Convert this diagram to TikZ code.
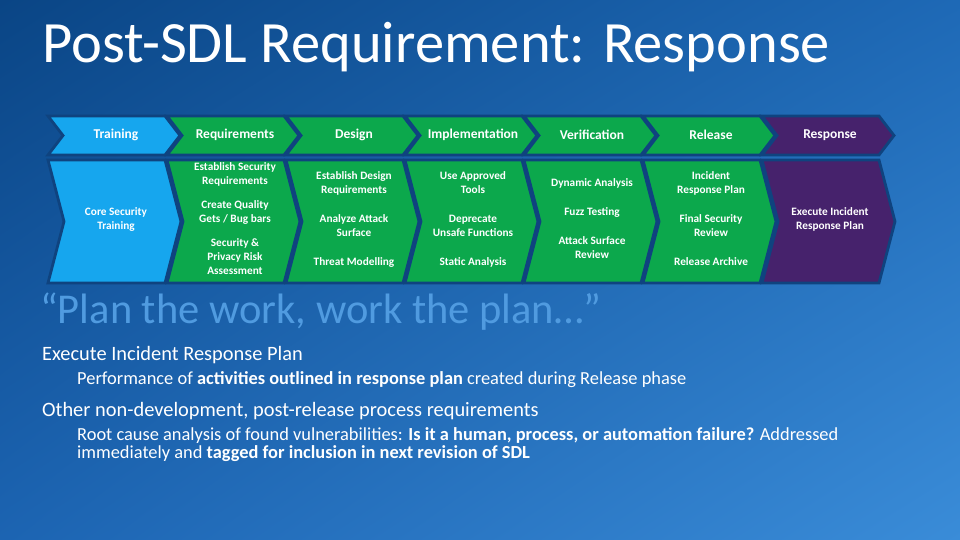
\documentclass[tikz,border=0pt]{standalone}
\usepackage{fontspec}
\setmainfont{Carlito}
\usetikzlibrary{shadings}
\definecolor{bgA}{HTML}{0A4585}
\definecolor{bgB}{HTML}{1E69B6}
\definecolor{bgC}{HTML}{1C64B2}
\definecolor{bgD}{HTML}{3A8CD8}
\definecolor{gapc}{HTML}{0F437F}
\definecolor{trainc}{HTML}{16A6EE}
\definecolor{greenc}{HTML}{0CA84C}
\definecolor{purplec}{HTML}{46226C}
\definecolor{quotec}{HTML}{509BE0}
\newcommand{\chevshape}[6]{%
  \path[chev,fill=#6] (#1,#2) -- ({#1+#5},#2) -- ({#1+#5+#4},{(#2+#3)/2}) --
    ({#1+#5},#3) -- (#1,#3) -- ({#1+#4},{(#2+#3)/2}) -- cycle;}
\tikzset{
  chev/.style={draw=gapc, line width=2.8pt, line join=miter},
  toplbl/.style={text=white, font=\bfseries\fontsize{13.5}{15}\selectfont, align=center},
  botlbl/.style={text=white, font=\bfseries\fontsize{11.3}{14}\selectfont, align=center},
  titlelbl/.style={text=white, font=\fontsize{58.5}{64}\selectfont, anchor=base west, inner sep=0pt},
  quotelbl/.style={text=quotec, font=\fontsize{42.5}{48}\selectfont, anchor=base west, inner sep=0pt},
  headlbl/.style={text=white, font=\fontsize{20.4}{23}\selectfont, anchor=base west, inner sep=0pt},
  sublbl/.style={text=white, font=\fontsize{18.4}{20}\selectfont, anchor=base west, inner sep=0pt},
}
\begin{document}
\begin{tikzpicture}[x=1pt,y=-1pt]
\useasboundingbox (0,0) rectangle (960,540);
\shade[upper left=bgA, upper right=bgB, lower left=bgC, lower right=bgD] (0,0) rectangle (960,540);

% title
\node[titlelbl] (title) at (42,63) {Post-SDL Requirement: Response};

% top row chevrons
\chevshape{48}{116}{155}{15}{117}{trainc}
\chevshape{167}{116}{155}{15}{117}{greenc}
\chevshape{286}{116}{155}{15}{117}{greenc}
\chevshape{405}{116}{155}{15}{117}{greenc}
\chevshape{524}{116}{155}{15}{117}{greenc}
\chevshape{643}{116}{155}{15}{117}{greenc}
\chevshape{762}{116}{155}{15}{117}{purplec}
% bottom row chevrons
\chevshape{48}{160}{283}{16}{117}{trainc}
\chevshape{167}{160}{283}{16}{117}{greenc}
\chevshape{286}{160}{283}{16}{117}{greenc}
\chevshape{405}{160}{283}{16}{117}{greenc}
\chevshape{524}{160}{283}{16}{117}{greenc}
\chevshape{643}{160}{283}{16}{117}{greenc}
\chevshape{762}{160}{283}{16}{117}{purplec}

% top labels
\node[toplbl] (h1) at (116,135) {Training};
\node[toplbl] (h2) at (235,135) {Requirements};
\node[toplbl] (h3) at (354,135) {Design};
\node[toplbl] (h4) at (473,135) {Implementation};
\node[toplbl] (h5) at (592,135) {Verification};
\node[toplbl] (h6) at (711,135) {Release};
\node[toplbl] (h7) at (830,135) {Response};

% bottom labels
\node[botlbl] (b11) at (116,219) {Core Security\\Training};
\node[botlbl] (b21) at (235,174) {Establish Security\\Requirements};
\node[botlbl] (b22) at (235,212) {Create Quality\\Gets / Bug bars};
\node[botlbl] (b23) at (235,257) {Security \&\\Privacy Risk\\Assessment};
\node[botlbl] (b31) at (354,183) {Establish Design\\Requirements};
\node[botlbl] (b32) at (354,226) {Analyze Attack\\Surface};
\node[botlbl] (b33) at (354,262) {Threat Modelling};
\node[botlbl] (b41) at (473,183) {Use Approved\\Tools};
\node[botlbl] (b42) at (473,226) {Deprecate\\Unsafe Functions};
\node[botlbl] (b43) at (473,262) {Static Analysis};
\node[botlbl] (b51) at (592,183) {Dynamic Analysis};
\node[botlbl] (b52) at (592,212) {Fuzz Testing};
\node[botlbl] (b53) at (592,248) {Attack Surface\\Review};
\node[botlbl] (b61) at (711,183) {Incident\\Response Plan};
\node[botlbl] (b62) at (711,226) {Final Security\\Review};
\node[botlbl] (b63) at (711,262) {Release Archive};
\node[botlbl] (b71) at (830,219) {Execute Incident\\Response Plan};

% quote
\node[quotelbl] (quote) at (40,323) {“Plan the work, work the plan…”};

% body text
\node[headlbl] (l1) at (42,360) {Execute Incident Response Plan};
\node[sublbl] (l2) at (77,384) {Performance of \textbf{activities outlined in response plan} created during Release phase};
\node[headlbl] (l3) at (42,416) {Other non-development, post-release process requirements};
\node[sublbl] (l4) at (77,440) {Root cause analysis of found vulnerabilities: \textbf{Is it a human, process, or automation failure?} Addressed};
\node[sublbl] (l5) at (77,458) {immediately and \textbf{tagged for inclusion in next revision of SDL}};
\end{tikzpicture}
\end{document}
